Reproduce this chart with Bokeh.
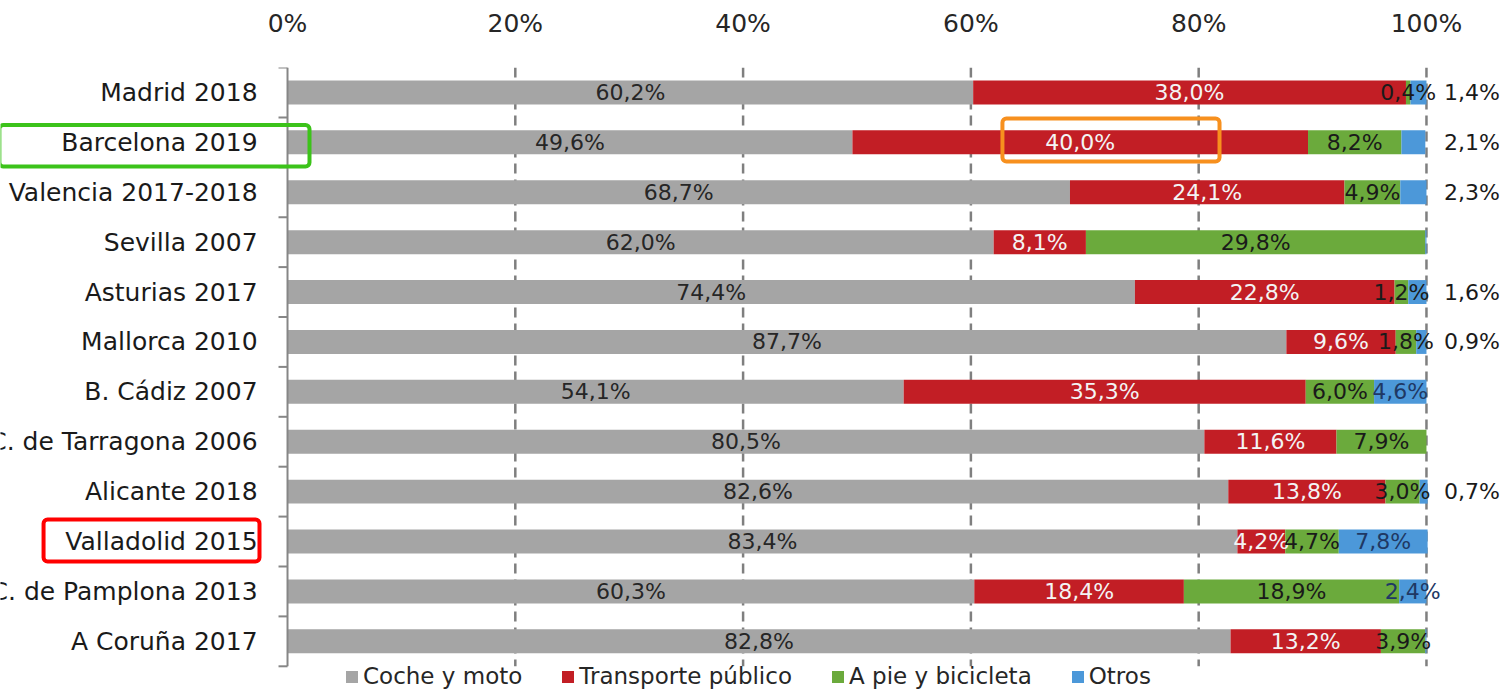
from bokeh.plotting import figure
from bokeh.models import (ColumnDataSource, Range1d, FixedTicker, PrintfTickFormatter,
                          BoxAnnotation, Legend, LegendItem)
from bokeh.core.properties import value
from bokeh.embed import file_html
from bokeh.resources import INLINE

# ---------------- data ----------------
categorias = ["Madrid 2018", "Barcelona 2019", "Valencia 2017-2018", "Sevilla 2007",
              "Asturias 2017", "Mallorca 2010", "B. Cádiz 2007", "C. de Tarragona 2006",
              "Alicante 2018", "Valladolid 2015", "C. de Pamplona 2013", "A Coruña 2017"]
coche = [60.2, 49.6, 68.7, 62.0, 74.4, 87.7, 54.1, 80.5, 82.6, 83.4, 60.3, 82.8]
transporte = [38.0, 40.0, 24.1, 8.1, 22.8, 9.6, 35.3, 11.6, 13.8, 4.2, 18.4, 13.2]
pie_bici = [0.4, 8.2, 4.9, 29.8, 1.2, 1.8, 6.0, 7.9, 3.0, 4.7, 18.9, 3.9]
otros = [1.4, 2.1, 2.3, 0.1, 1.6, 0.9, 4.6, 0.0, 0.7, 7.8, 2.4, 0.1]
# how the 'Otros' value is labelled: inside the bar, outside on the right, or not shown
otros_etiqueta = ["fuera", "fuera", "fuera", "", "fuera", "fuera",
                  "dentro", "", "fuera", "dentro", "dentro", ""]
series = ["Coche y moto", "Transporte público", "A pie y bicicleta", "Otros"]
ticks_x = [0, 20, 40, 60, 80, 100]

# ---------------- style ----------------
FONT = "DejaVu Sans"
colores = ["#A5A5A5", "#C21E25", "#6BAA3C", "#4C98D9"]
colores_texto = ["#262626", "#F4F4F4", "#1A1A1A", "#1F3864"]
X_FUERA = 104.0      # x of the outside 'Otros' labels
X_CAT = -2.63        # right edge of the category labels
TICK = 0.79          # length of the left axis ticks (data units)

n = len(categorias)
ys = list(range(n))

src = ColumnDataSource(dict(y=ys, cat=categorias, coche=coche, tp=transporte,
                            pie=pie_bici, otros=otros))

p = figure(width=1500, height=690, output_backend="svg", toolbar_location=None,
           x_range=Range1d(-25.2, 106.5), y_range=Range1d(11.985, -0.5),
           x_axis_location="above", min_border_left=0, min_border_right=0,
           min_border_top=67, min_border_bottom=0)
p.outline_line_color = None
p.background_fill_color = "white"
p.yaxis.visible = False
p.xgrid.visible = False
p.ygrid.visible = False

limites = [i - 0.5 for i in range(n + 1)]

# dashed vertical grid lines over the category band
gx = ticks_x[1:]
p.segment(x0=gx, y0=[limites[0]] * len(gx), x1=gx, y1=[limites[-1]] * len(gx),
          line_color="#7F7F7F", line_dash="10 6", line_width=2.5)

rs = p.hbar_stack(["coche", "tp", "pie", "otros"], y="y", height=0.48, source=src,
                  color=colores, line_color=None)

# left axis line and ticks between categories
p.segment(x0=[0], y0=[limites[0]], x1=[0], y1=[limites[-1]],
          line_color="#868686", line_width=2)
p.segment(x0=[-TICK] * len(limites), y0=limites, x1=[0] * len(limites), y1=limites,
          line_color="#868686", line_width=2)

# value labels
lx, ly, lt, lc = [], [], [], []
for i in range(n):
    vals = [coche[i], transporte[i], pie_bici[i], otros[i]]
    izq = 0.0
    for k, v in enumerate(vals):
        centro = izq + v / 2
        izq += v
        color = colores_texto[k]
        if k == 3:
            if otros_etiqueta[i] == "":
                continue
            if otros_etiqueta[i] == "fuera":
                centro = X_FUERA
                color = "#1A1A1A"
        lx.append(centro)
        ly.append(i)
        lt.append(f"{v:.1f}".replace(".", ",") + "%")
        lc.append(color)
lsrc = ColumnDataSource(dict(x=lx, y=ly, t=lt, c=lc))
p.text(x="x", y="y", text="t", text_color="c", source=lsrc,
       text_font=value(FONT), text_font_size=value("22px"),
       text_align="center", text_baseline="middle")

# category labels
p.text(x=X_CAT, y="y", text="cat", source=src,
       text_align="right", text_baseline="middle",
       text_font=value(FONT), text_font_size=value("25px"),
       text_color="#1A1A1A")

# top axis
xa = p.xaxis[0]
xa.ticker = FixedTicker(ticks=ticks_x)
xa.formatter = PrintfTickFormatter(format="%d%%")
xa.axis_line_color = None
xa.major_tick_line_color = None
xa.minor_tick_line_color = None
xa.major_label_standoff = 24
xa.major_label_text_font = FONT
xa.major_label_text_font_size = "25px"
xa.major_label_text_color = "#262626"

# legend inside the frame, under the bars
lg = Legend(items=[LegendItem(label=s, renderers=[r]) for s, r in zip(series, rs)],
            orientation="horizontal", location=(57 + 287, 1))
lg.border_line_color = None
lg.background_fill_alpha = 0
lg.padding = 0
lg.margin = 0
lg.spacing = 38
lg.glyph_width = 15
lg.glyph_height = 15
lg.label_standoff = 4
lg.label_height = 20
lg.label_text_font = FONT
lg.label_text_font_size = "23px"
lg.label_text_color = "#262626"
p.add_layout(lg, "center")

# highlight boxes
for l, r, b, t, c in [(-25.3, 1.93, 1.484, 0.652, "#3CC31A"),
                      (62.77, 81.83, 1.384, 0.522, "#F7901E"),
                      (-21.42, -2.46, 9.40, 8.558, "#FF0000")]:
    p.add_layout(BoxAnnotation(left=l, right=r, bottom=b, top=t,
                               fill_color=None, line_color=c, line_alpha=1,
                               line_width=4, border_radius=4))

open("out.html", "w").write(file_html(p, INLINE))
